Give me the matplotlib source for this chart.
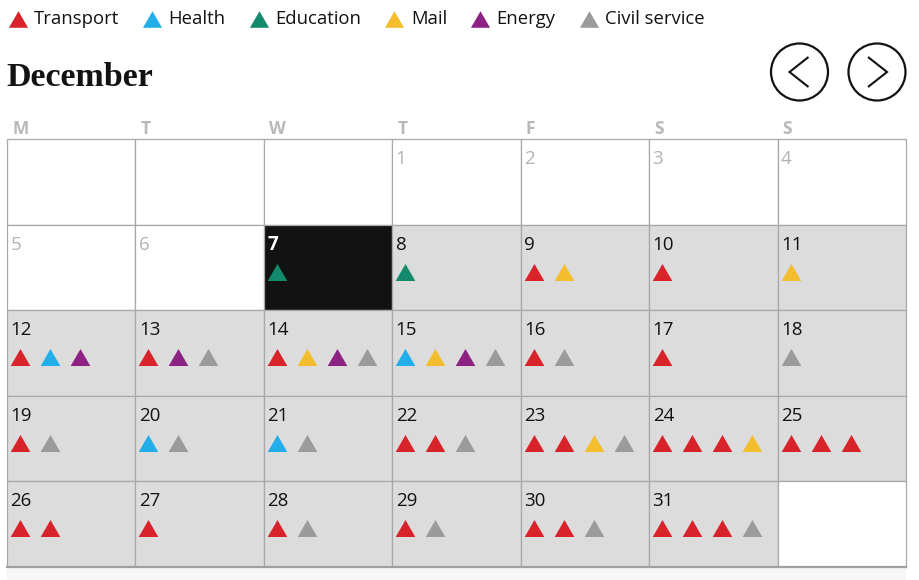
import matplotlib
matplotlib.use('Agg')
import matplotlib.pyplot as plt
from matplotlib.patches import Rectangle, Circle

# data
month_name = 'December'
weekday_labels = ['M', 'T', 'W', 'T', 'F', 'S', 'S']
first_weekday = 3      # 1 December is a Thursday
n_days = 31
today = 7

categories = ['Transport', 'Health', 'Education', 'Mail', 'Energy', 'Civil service']
cat_colors = ['#d9232a', '#22aee9', '#128a6b', '#f3bd2e', '#8c2283', '#9b9b9b']

# strikes per day (category index)
strike_days = [7, 8, 9, 10, 11, 12, 13, 14, 15, 16, 17, 18, 19, 20, 21, 22, 23,
               24, 25, 26, 27, 28, 29, 30, 31]
strike_events = [
    [2], [2], [0, 3], [0], [3],
    [0, 1, 4], [0, 4, 5], [0, 3, 4, 5], [1, 3, 4, 5], [0, 5], [0], [5],
    [0, 5], [1, 5], [1, 5], [0, 0, 5], [0, 0, 3, 5], [0, 0, 0, 3], [0, 0, 0],
    [0, 0], [0], [0, 5], [0, 5], [0, 0, 5], [0, 0, 0, 5],
]

W, H = 919, 580
fig = plt.figure(figsize=(W / 100, H / 100), dpi=100)
fig.patch.set_facecolor('white')

# background axes in pixel units
bg = fig.add_axes([0, 0, 1, 1])
bg.set_xlim(0, W)
bg.set_ylim(H, 0)
bg.axis('off')

sans = ['Open Sans', 'DejaVu Sans']
serif = ['Liberation Serif', 'DejaVu Serif']

# legend, laid out left to right
tri = [(0, 0.866), (-1, -0.866), (1, -0.866)]
renderer = fig.canvas.get_renderer()
x = 17.5
for name, col in zip(categories, cat_colors):
    bg.scatter([x], [18.5], marker=tri, s=190, color=col, linewidths=0)
    t = bg.text(x + 16.5, 19, name, fontsize=13.3, family=sans, color='#121212',
                va='center', ha='left')
    wpx = t.get_window_extent(renderer).width
    x = x + 16.5 + wpx + 33

# title
bg.text(6, 78, month_name, fontsize=24.5, family=serif, fontweight='bold',
        color='#121212', va='center', ha='left')

# nav buttons
for cx, d in [(799.5, -1), (877, 1)]:
    bg.add_patch(Circle((cx, 72), 28.5, fill=False, edgecolor='#121212', lw=1.6))
    bg.plot([cx - 9 * d, cx + 10 * d, cx - 9 * d], [57, 72, 87], color='#121212',
            lw=1.5, solid_joinstyle='miter', solid_capstyle='butt')

# bottom band
bg.add_patch(Rectangle((7, 569), 899, 11, facecolor='#f6f6f6', edgecolor='none'))

# calendar axes
left, top, right, bottom = 7, 139, 906, 567
cal = fig.add_axes([left / W, 1 - bottom / H, (right - left) / W, (bottom - top) / H])
cal.set_xlim(0, 7)
cal.set_ylim(5, 0)
cal.axis('off')
cal.patch.set_alpha(0)

cw = (right - left) / 7.0
ch = (bottom - top) / 5.0

n_cells = 35
events = dict(zip(strike_days, strike_events))
for i in range(n_cells):
    col = i % 7
    row = i // 7
    day = i - first_weekday + 1
    face = 'white'
    num_color = '#121212'
    weight = 'normal'
    if 1 <= day <= n_days:
        if day < today:
            num_color = '#b3b3b3'
        elif day == today:
            face = '#121212'
            num_color = 'white'
            weight = 'bold'
        else:
            face = '#dcdcdc'
    cal.add_patch(Rectangle((col, row), 1, 1, facecolor=face, edgecolor='#a8a8a8',
                            lw=0.9, clip_on=False))
    if 1 <= day <= n_days:
        cal.text(col + 3.5 / cw, row + 25 / ch, str(day), fontsize=13.5, family=sans,
                 color=num_color, fontweight=weight, va='baseline', ha='left')
        for k, c in enumerate(events.get(day, [])):
            cal.scatter([col + (13 + 30 * k) / cw], [row + 47 / ch], marker=tri,
                        s=200, color=cat_colors[c], linewidths=0, zorder=3,
                        clip_on=False)

# outer bottom edge a bit darker
cal.plot([0, 7], [5, 5], color='#a0a0a0', lw=1.6, clip_on=False)

for j, lab in enumerate(weekday_labels):
    cal.text(j + 5 / cw, -5 / ch, lab, fontsize=12.5, family=sans, fontweight='bold',
             color='#b8b8b8', va='baseline', ha='left', clip_on=False)

fig.savefig('out.png', dpi=100)
